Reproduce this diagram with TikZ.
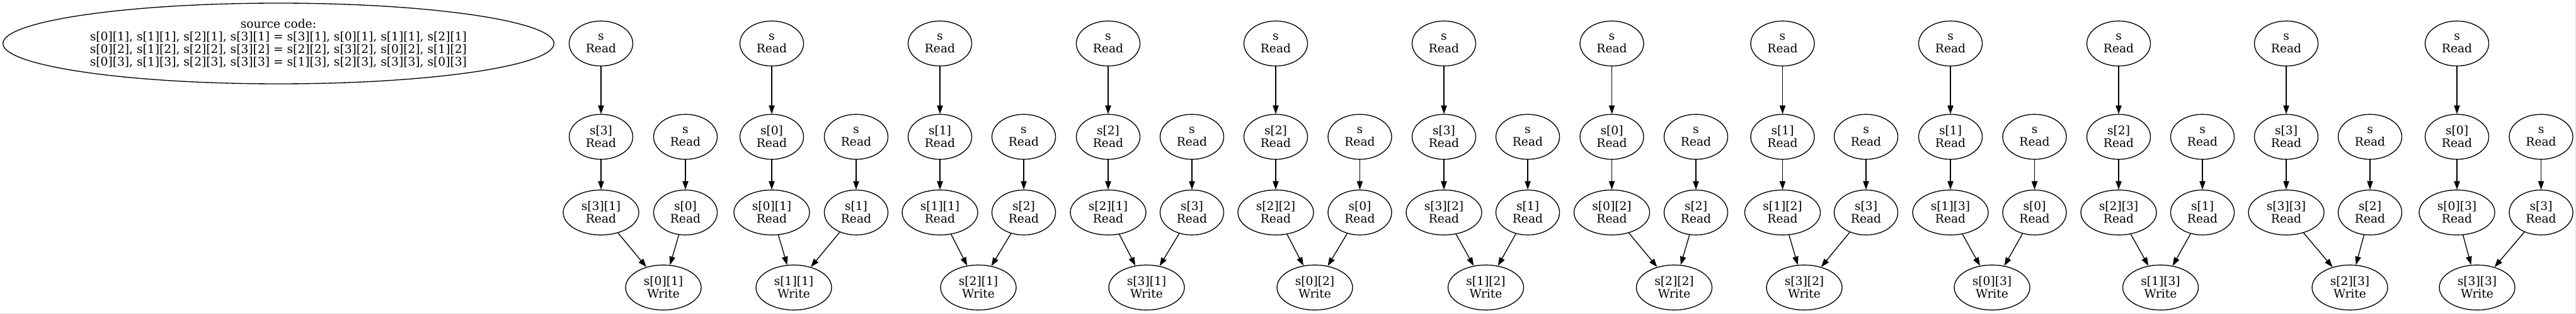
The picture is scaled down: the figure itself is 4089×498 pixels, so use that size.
\documentclass[tikz,border=0pt]{standalone}
\usepackage{fontspec}
\setmainfont{DejaVu Serif}
\usetikzlibrary{shapes.geometric, arrows.meta}

\tikzset{
  op/.style={ellipse, draw, line width=1pt, inner sep=0pt, align=center,
    minimum width=75.75pt, minimum height=53.5pt,
    font=\fontsize{14pt}{15pt}\selectfont},
  wideop/.style={op, minimum width=90pt},
  flow/.style={-{Triangle[length=10pt,width=7pt]}, line width=1pt},
}

\begin{document}
\begin{tikzpicture}[x=0.75pt, y=-0.75pt]
    \useasboundingbox (0,0) rectangle (4089,498);
    \draw[gray!25, line width=0.75pt] (4088.5,0) -- (4088.5,497.5) -- (0,497.5);

    % The source code on the first rank
    \node[op, minimum width=656pt, minimum height=96pt] (src) at (442,69)
      {source code:\\s[0][1], s[1][1], s[2][1], s[3][1] = s[3][1], s[0][1], s[1][1], s[2][1]\\s[0][2], s[1][2], s[2][2], s[3][2] = s[2][2], s[3][2], s[0][2], s[1][2]\\s[0][3], s[1][3], s[2][3], s[3][3] = s[1][3], s[2][3], s[3][3], s[0][3]};

    % One group per element write: left x / right x / write x / row read / write row / column
    \foreach \lx/\rx/\wx/\a/\c/\j [count=\i] in {
        954/1088/1053/3/0/1, 1225/1359/1260/0/1/1, 1492/1625/1553/1/2/1,
        1759/1892/1820/2/3/1, 2025/2158.5/2087/2/0/2, 2292/2425/2358.5/3/1/2,
        2558.5/2692/2657.5/0/2/2, 2829.5/2962/2864/1/3/2, 3096/3229.5/3162/1/0/3,
        3363/3496/3429.5/2/1/3, 3629/3762/3730/3/2/3, 3900/4033.5/3932/0/3/3} {
      \node[op] (top\i) at (\lx,69) {s\\Read};
      \node[op] (row\i) at (\lx,217) {s[\a]\\Read};
      \node[wideop] (elem\i) at (\lx,337) {s[\a][\j]\\Read};
      \node[op] (base\i) at (\rx,217) {s\\Read};
      \node[op] (idx\i) at (\rx,337) {s[\c]\\Read};
      \node[wideop] (wr\i) at (\wx,456) {s[\c][\j]\\Write};

      \draw[flow] (top\i) -- (row\i);
      \draw[flow] (row\i) -- (elem\i);
      \draw[flow] (base\i) -- (idx\i);
      \draw[flow] (elem\i) -- (wr\i);
      \draw[flow] (idx\i) -- (wr\i);
    }
\end{tikzpicture}
\end{document}
